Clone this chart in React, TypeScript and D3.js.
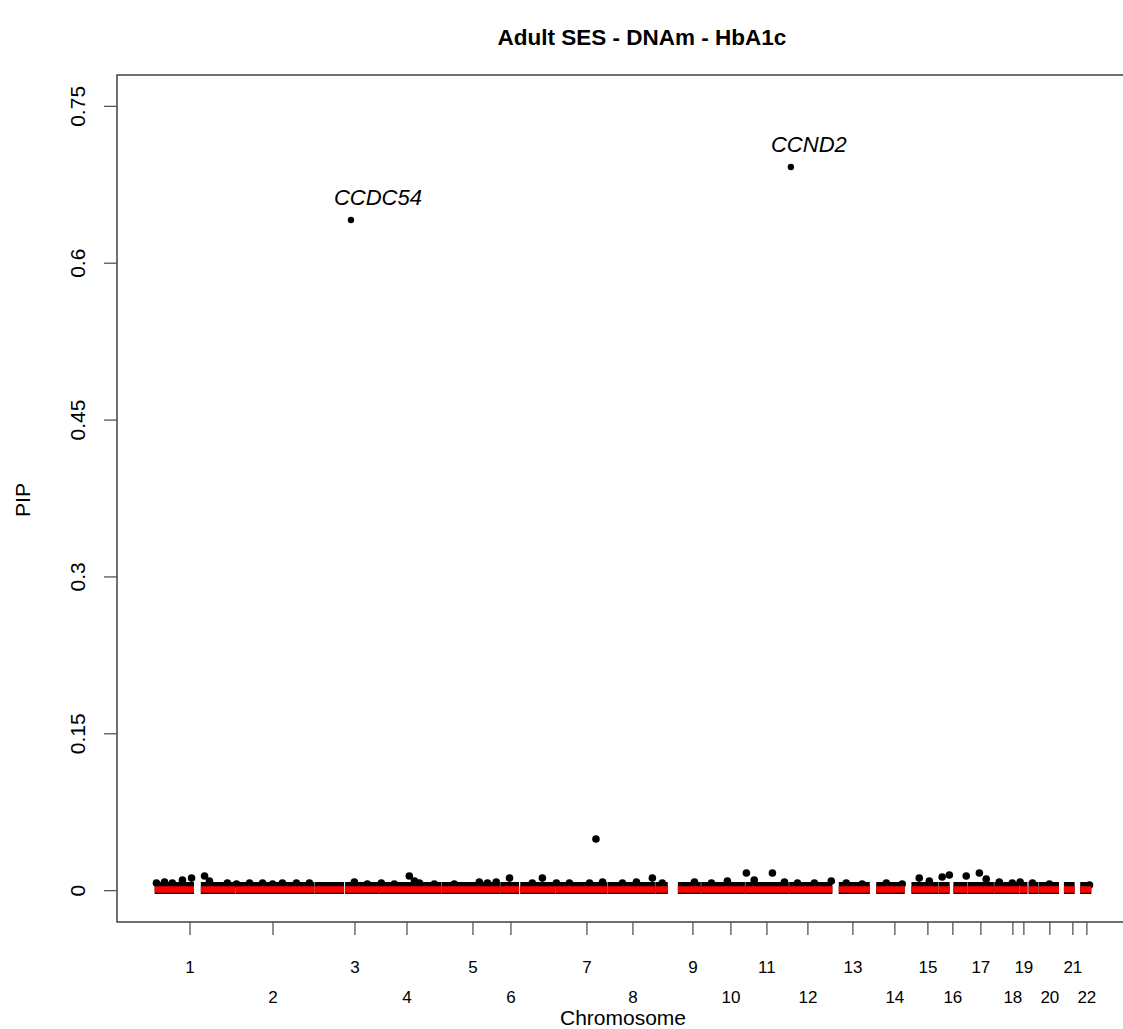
import React from "react";
import * as d3 from "d3";

// chromosome lengths (hg19, Mb)
const CHROMOSOMES = ["1", "2", "3", "4", "5", "6", "7", "8", "9", "10", "11", "12", "13", "14", "15", "16", "17", "18", "19", "20", "21", "22"];
const CHR_LENGTH_MB = [249.3, 243.2, 198.0, 191.2, 180.9, 171.1, 159.1, 146.4, 141.2, 135.5, 135.0, 133.9, 115.2, 107.3, 102.5, 90.4, 81.2, 78.1, 59.1, 63.0, 48.1, 51.3];
// where the axis label of each chromosome sits (Mb inside the chromosome)
const CHR_TICK_MB = [109.2, 115.1, 123.9, 85.8, 97.5, 33.4, 95.9, 78.2, 116.3, 91.9, 67.1, 58.1, 62.5, 76.4, 70.6, 44.9, 40.6, 57.8, 13.5, 34.3, 42, 37];
// regions without probes: [chr, from Mb, to Mb]
const PROBE_GAPS: [number, number, number][] = [
  [1, 121.5, 142.5], [3, 90.5, 93.5], [6, 58.5, 62], [9, 39, 70], [13, 0, 19], [14, 0, 19],
  [15, 0, 20], [16, 35, 46.5], [19, 24.5, 28], [21, 0, 14.5], [22, 0, 16.5],
];
// baseline PIP of the bulk of CpGs (black = all, red = low)
const BASE_PIP_BLACK = 0.0025;
const BASE_PIP_RED = 0.0011;

// CpGs standing out slightly from the baseline: [chr, Mb, PIP]
const SMALL_HITS: [number, number, number][] = [
  [1, 6, 0.0073], [1, 31, 0.0082], [1, 55, 0.0073], [1, 86, 0.0101], [1, 114, 0.012], [1, 154, 0.014], [1, 169, 0.0092], [1, 224, 0.0073],
  [2, 3, 0.0063], [2, 43, 0.0073], [2, 83, 0.0073], [2, 114, 0.0063], [2, 144, 0.0073], [2, 187, 0.0073], [2, 227, 0.0073],
  [3, 122, 0.0082], [3, 162, 0.0063],
  [4, 7, 0.0073], [4, 47, 0.0063], [4, 93, 0.014], [4, 109, 0.0092], [4, 124, 0.0073], [4, 170, 0.0063],
  [5, 40, 0.0063], [5, 117, 0.0082], [5, 142, 0.0073], [5, 169, 0.0082],
  [6, 29, 0.012], [6, 99, 0.0073], [6, 130, 0.012],
  [7, 2, 0.0073], [7, 42, 0.0073], [7, 104, 0.0073], [7, 123.6, 0.0494], [7, 144, 0.0082],
  [8, 46, 0.0073], [8, 89, 0.0082], [8, 138, 0.012],
  [9, 22, 0.0073], [9, 121, 0.0082],
  [10, 32, 0.0073], [10, 81, 0.0092],
  [11, 4, 0.0168], [11, 28, 0.0101], [11, 84, 0.0168], [11, 121, 0.0082],
  [12, 26, 0.0073], [12, 78, 0.0073], [12, 130, 0.0092],
  [13, 42, 0.0073], [13, 91, 0.0063],
  [14, 50, 0.0073], [14, 99, 0.0063],
  [15, 44, 0.012], [15, 75, 0.0092],
  [16, 12, 0.013], [16, 34, 0.0149], [16, 86, 0.014],
  [17, 36, 0.0168], [17, 57, 0.011],
  [18, 16, 0.0082], [18, 56, 0.0073],
  [19, 2, 0.0082], [19, 40, 0.0073],
  [20, 33, 0.0063],
  [22, 45, 0.0053],
];

// annotated genes: [gene, chr, Mb, PIP]
const TOP_HITS: [string, number, number, number][] = [
  ["CCDC54", 3, 111.6, 0.6413],
  ["CCND2", 12, 5.8, 0.692],
];

const Y_TICKS = [0, 0.15, 0.3, 0.45, 0.6, 0.75];
const Y_TICK_LABELS = ["0", "0.15", "0.3", "0.45", "0.6", "0.75"];

const TITLE = "Adult SES - DNAm - HbA1c";
const X_TITLE = "Chromosome";
const Y_TITLE = "PIP";

const FONT = "'Liberation Sans', Arial, Helvetica, sans-serif";
const LABEL_DX: Record<string, number> = { CCDC54: 27, CCND2: 18 };

export default function App() {
  const width = 1123;
  const height = 1029;
  const left = 117, top = 75, bottom = 922, right = 1129;

  const chrStart = d3.cumsum([0, ...CHR_LENGTH_MB]);
  const total = d3.sum(CHR_LENGTH_MB);
  const cum = (chr: number, mb: number) => chrStart[chr - 1] + mb;

  // R style 4% padding on both axes
  const x = d3.scaleLinear().domain([-0.04 * total, total * 1.04]).range([left, right]);
  const y = d3.scaleLinear().domain([-0.03, 0.78]).range([bottom, top]);

  // probe-covered stretches of each chromosome
  const segments: [number, number][] = [];
  CHR_LENGTH_MB.forEach((len, i) => {
    const chr = i + 1;
    const gaps = PROBE_GAPS.filter((g) => g[0] === chr).sort((a, b) => a[1] - b[1]);
    let s = 0.6;
    gaps.forEach((g) => {
      if (g[1] > s) segments.push([cum(chr, s), cum(chr, g[1])]);
      s = g[2];
    });
    segments.push([cum(chr, s), cum(chr, len - 0.6)]);
  });

  return (
    <div>
      <style>{`body{margin:0}`}</style>
      <svg width={width} height={height} style={{ display: "block", background: "#fff" }} fontFamily={FONT}>
        <text x={642} y={45} textAnchor="middle" fontWeight="bold" fontSize={22.5}>{TITLE}</text>

        {/* baseline band */}
        <g>
          {segments.map((s, i) => (
            <line key={"b" + i} x1={x(s[0])} x2={x(s[1])} y1={y(BASE_PIP_BLACK)} y2={y(BASE_PIP_BLACK)} stroke="#000" strokeWidth={12} />
          ))}
          {SMALL_HITS.map((d, i) => (
            <circle key={"s" + i} cx={x(cum(d[0], d[1]))} cy={y(d[2])} r={3.8} fill="#000" />
          ))}
          {segments.map((s, i) => (
            <line key={"r" + i} x1={x(s[0])} x2={x(s[1])} y1={y(BASE_PIP_RED)} y2={y(BASE_PIP_RED)} stroke="#ff0000" strokeWidth={6.5} />
          ))}
        </g>

        {TOP_HITS.map((d) => (
          <g key={d[0]}>
            <circle cx={x(cum(d[1], d[2]))} cy={y(d[3])} r={3.2} fill="#000" />
            <text x={x(cum(d[1], d[2])) + LABEL_DX[d[0]]} y={y(d[3]) - 15} textAnchor="middle" fontStyle="italic" fontSize={22}>{d[0]}</text>
          </g>
        ))}

        <rect x={left} y={top} width={right - left} height={bottom - top} fill="none" stroke="#333" strokeWidth={1.4} />

        {Y_TICKS.map((t, i) => (
          <g key={"y" + i}>
            <line x1={left - 13} x2={left} y1={y(t)} y2={y(t)} stroke="#555" strokeWidth={1.3} />
            <text transform={`translate(85,${y(t)}) rotate(-90)`} textAnchor="middle" fontSize={21}>{Y_TICK_LABELS[i]}</text>
          </g>
        ))}
        <text transform={`translate(30,500) rotate(-90)`} textAnchor="middle" fontSize={21}>{Y_TITLE}</text>

        {CHROMOSOMES.map((c, i) => {
          const xp = x(cum(i + 1, CHR_TICK_MB[i]));
          return (
            <g key={"x" + c}>
              <line x1={xp} x2={xp} y1={bottom} y2={bottom + 13} stroke="#555" strokeWidth={1.3} />
              <text x={xp} y={i % 2 === 0 ? 973 : 1003} textAnchor="middle" fontSize={17}>{c}</text>
            </g>
          );
        })}
        <text x={(left + right) / 2} y={1025} textAnchor="middle" fontSize={21}>{X_TITLE}</text>
      </svg>
    </div>
  );
}
